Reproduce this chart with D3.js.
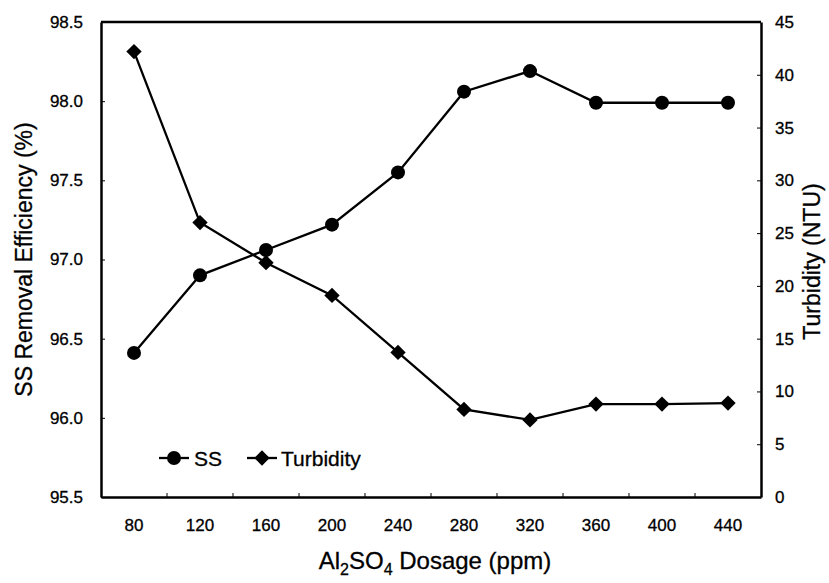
<!DOCTYPE html>
<html>
<head>
<meta charset="utf-8">
<script src="https://cdn.jsdelivr.net/npm/d3@7/dist/d3.min.js"></script>
<style>
  html, body { margin: 0; padding: 0; background: #fff; }
  svg { display: block; }
  text { font-family: "Liberation Sans", Arial, sans-serif; fill: #000; }
</style>
</head>
<body>
<svg id="chart" width="829" height="583"></svg>
<script>
const dosage = ["80", "120", "160", "200", "240", "280", "320", "360", "400", "440"];
const ssValues = [96.41, 96.90, 97.06, 97.22, 97.55, 98.06, 98.19, 97.99, 97.99, 97.99];
const turbidityValues = [42.2, 26.0, 22.2, 19.1, 13.7, 8.3, 7.3, 8.8, 8.8, 8.9];
const leftTicks = [95.5, 96.0, 96.5, 97.0, 97.5, 98.0, 98.5];
const rightTicks = [0, 5, 10, 15, 20, 25, 30, 35, 40, 45];

const svg = d3.select("#chart");
const L = 101, R = 761, T = 22, B = 497;

const x = d3.scaleBand().domain(dosage).range([L, R]).paddingInner(0).paddingOuter(0);
const yL = d3.scaleLinear().domain([95.5, 98.5]).range([B, T]);
const yR = d3.scaleLinear().domain([0, 45]).range([B, T]);
const cx = d => x(d) + x.bandwidth() / 2;

// top border
svg.append("line").attr("x1", L).attr("x2", R).attr("y1", T).attr("y2", T)
  .attr("stroke", "#000").attr("stroke-width", 2.5);

// left axis
const gL = svg.append("g").attr("transform", `translate(${L},0)`)
  .call(d3.axisLeft(yL).tickValues(leftTicks).tickFormat(d3.format(".1f"))
    .tickSizeInner(-4).tickSizeOuter(0).tickPadding(18));
// right axis
const gR = svg.append("g").attr("transform", `translate(${R},0)`)
  .call(d3.axisRight(yR).tickValues(rightTicks).tickFormat(d3.format("d"))
    .tickSizeInner(-4).tickSizeOuter(0).tickPadding(14));
// bottom axis (labels at category centers)
const gB = svg.append("g").attr("transform", `translate(0,${B})`)
  .call(d3.axisBottom(x).tickSize(0).tickSizeOuter(0).tickPadding(22));
// bottom tick marks at category boundaries (inward)
svg.append("g").selectAll("line").data(dosage.slice(1)).join("line")
  .attr("x1", d => x(d)).attr("x2", d => x(d))
  .attr("y1", B).attr("y2", B - 4)
  .attr("stroke", "#000").attr("stroke-width", 1);

[gL, gR, gB].forEach(g => {
  g.select(".domain").attr("stroke", "#000").attr("stroke-width", 2.5);
  g.selectAll(".tick line").attr("stroke", "#000").attr("stroke-width", 1);
  g.selectAll(".tick text").attr("font-size", 17)
    .attr("font-family", "Liberation Sans, Arial, sans-serif")
    .attr("fill", "#000").attr("stroke", "#000").attr("stroke-width", 0.3);
});

// lines
const ssLine = d3.line().x((d, i) => cx(dosage[i])).y(d => yL(d));
const tLine = d3.line().x((d, i) => cx(dosage[i])).y(d => yR(d));

svg.append("path").datum(turbidityValues).attr("d", tLine)
  .attr("fill", "none").attr("stroke", "#000").attr("stroke-width", 2.3);
svg.append("path").datum(ssValues).attr("d", ssLine)
  .attr("fill", "none").attr("stroke", "#000").attr("stroke-width", 2.3);

const diamond = d3.symbol().type(d3.symbolDiamond2).size(150);
svg.append("g").selectAll("path").data(turbidityValues).join("path")
  .attr("d", diamond)
  .attr("transform", (d, i) => `translate(${cx(dosage[i])},${yR(d)})`)
  .attr("fill", "#000");
svg.append("g").selectAll("circle").data(ssValues).join("circle")
  .attr("cx", (d, i) => cx(dosage[i])).attr("cy", d => yL(d)).attr("r", 7)
  .attr("fill", "#000");

// legend
const ly = 458;
const lg = svg.append("g");
lg.append("line").attr("x1", 159).attr("x2", 189).attr("y1", ly).attr("y2", ly).attr("stroke", "#000").attr("stroke-width", 2.3);
lg.append("circle").attr("cx", 174).attr("cy", ly).attr("r", 7).attr("fill", "#000");
lg.append("text").attr("x", 194).attr("y", ly).attr("dy", "0.36em").attr("font-size", 21)
  .attr("stroke", "#000").attr("stroke-width", 0.3).text("SS");
lg.append("line").attr("x1", 247).attr("x2", 277).attr("y1", ly).attr("y2", ly).attr("stroke", "#000").attr("stroke-width", 2.3);
lg.append("path").attr("d", diamond).attr("transform", `translate(262,${ly})`).attr("fill", "#000");
lg.append("text").attr("x", 281).attr("y", ly).attr("dy", "0.36em").attr("font-size", 21)
  .attr("stroke", "#000").attr("stroke-width", 0.3).text("Turbidity");

// axis titles
const xt = svg.append("text").attr("x", (L + R) / 2 + 4).attr("y", 569)
  .attr("text-anchor", "middle").attr("font-size", 24)
  .attr("stroke", "#000").attr("stroke-width", 0.3);
xt.append("tspan").text("Al");
xt.append("tspan").attr("font-size", 16).attr("dy", 6).text("2");
xt.append("tspan").attr("dy", -6).text("SO");
xt.append("tspan").attr("font-size", 16).attr("dy", 6).text("4");
xt.append("tspan").attr("dy", -6).text(" Dosage (ppm)");

svg.append("text").attr("transform", `translate(32,${(T + B) / 2}) rotate(-90)`)
  .attr("text-anchor", "middle").attr("font-size", 23)
  .attr("stroke", "#000").attr("stroke-width", 0.3).text("SS Removal Efficiency (%)");
svg.append("text").attr("transform", `translate(820,${(T + B) / 2 + 2}) rotate(-90)`)
  .attr("text-anchor", "middle").attr("font-size", 23)
  .attr("stroke", "#000").attr("stroke-width", 0.3).text("Turbidity (NTU)");
</script>
</body>
</html>
